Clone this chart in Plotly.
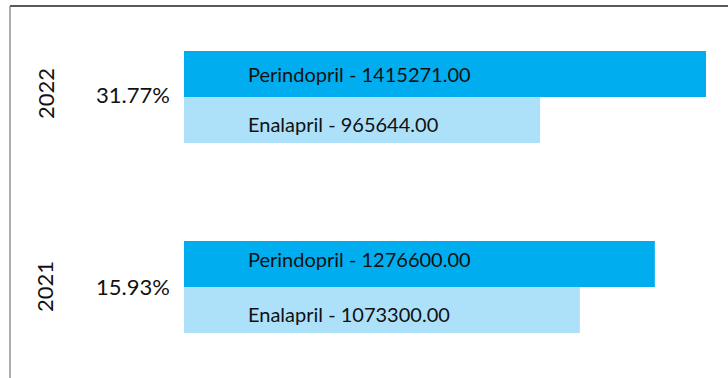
import plotly.graph_objects as go

# Sales volumes by year for two ACE inhibitors
years = ["2021", "2022"]
enalapril = [1073300.00, 965644.00]
perindopril = [1276600.00, 1415271.00]
growth_labels = ["15.93%", "31.77%"]

DARK = "#00AEEF"
LIGHT = "#ADE1FA"
TEXT = "#111111"
FONT = "Lato"

BARGAP = 0.516
half = (1 - BARGAP) / 4  # offset of each bar centre from its group centre

# small vertical nudges (px) for the in-bar labels, per year
perindopril_nudge = [5, 0]
enalapril_nudge = [-4.5, -4]
group_nudge = [0, 3]

fig = go.Figure()
fig.add_trace(go.Bar(
    y=years, x=enalapril, orientation="h", name="Enalapril",
    marker=dict(color=LIGHT, line=dict(width=0)), hoverinfo="skip",
))
fig.add_trace(go.Bar(
    y=years, x=perindopril, orientation="h", name="Perindopril",
    marker=dict(color=DARK, line=dict(width=0)), hoverinfo="skip",
))

annotations = []
for i, yr in enumerate(years):
    # labels inside the bars
    annotations.append(dict(
        x=0, y=i + half, xref="x", yref="y", xanchor="left", yanchor="middle",
        xshift=62, yshift=perindopril_nudge[i],
        text=f"Perindopril - {perindopril[i]:.2f}", showarrow=False,
        font=dict(family=FONT, size=20, color=TEXT),
    ))
    annotations.append(dict(
        x=0, y=i - half, xref="x", yref="y", xanchor="left", yanchor="middle",
        xshift=62, yshift=enalapril_nudge[i],
        text=f"Enalapril - {enalapril[i]:.2f}", showarrow=False,
        font=dict(family=FONT, size=20, color=TEXT),
    ))
    # growth percentage left of the group
    annotations.append(dict(
        x=0, y=i, xref="x", yref="y", xanchor="right", yanchor="middle",
        xshift=-12, yshift=group_nudge[i], text=growth_labels[i], showarrow=False,
        font=dict(family=FONT, size=22, color=TEXT),
    ))
    # year label, rotated
    annotations.append(dict(
        x=0, y=i, xref="paper", yref="y", xanchor="center", yanchor="middle",
        xshift=-139, yshift=group_nudge[i], text=yr, textangle=-90, showarrow=False,
        font=dict(family=FONT, size=22, color=TEXT),
    ))

fig.update_layout(
    width=728, height=378,
    margin=dict(l=184, r=6, t=6, b=0, pad=0),
    paper_bgcolor="white", plot_bgcolor="white",
    barmode="group", bargap=BARGAP, bargroupgap=0,
    showlegend=False,
    xaxis=dict(range=[0, 1458640], visible=False, fixedrange=True),
    yaxis=dict(type="category", categoryorder="array", categoryarray=years,
               range=[-0.479, 1.479], visible=False, fixedrange=True),
    annotations=annotations,
    shapes=[
        dict(type="line", xref="paper", yref="paper", x0=-174 / 538, x1=1.02,
             y0=1, y1=1, line=dict(color="#222222", width=1.5)),
        dict(type="line", xref="paper", yref="paper", x0=-174 / 538, x1=-174 / 538,
             y0=1, y1=0, line=dict(color="#777777", width=1.2)),
    ],
)

fig.write_html("out.html", config={"displayModeBar": False})
